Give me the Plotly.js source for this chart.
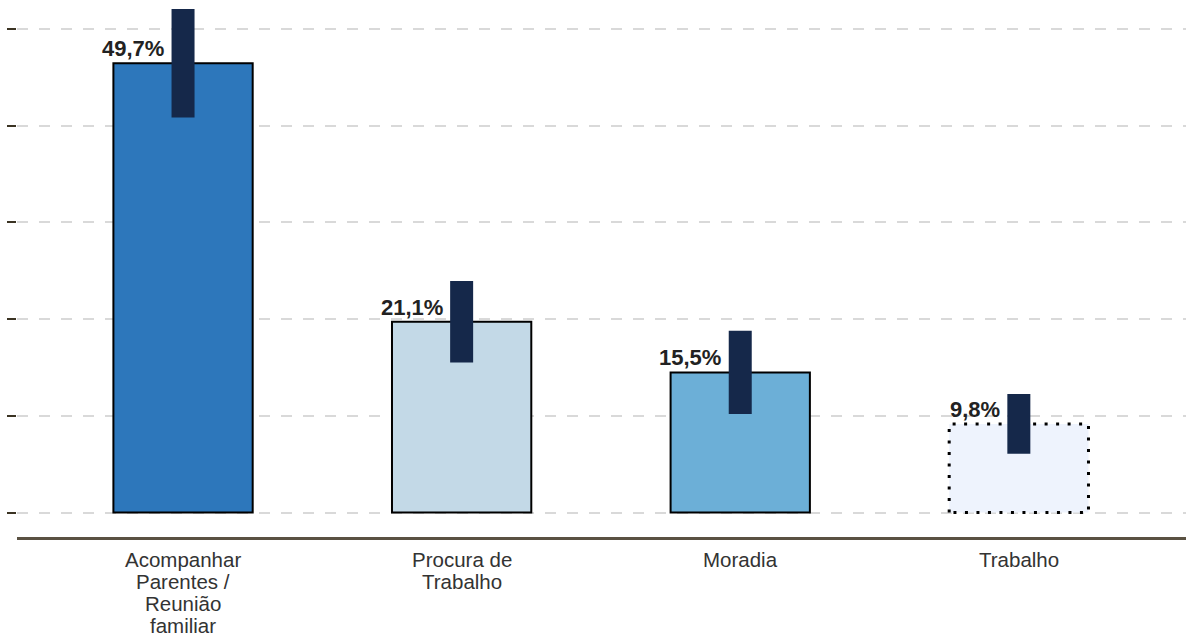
<!DOCTYPE html>
<html>
<head>
<meta charset="utf-8">
<script src="https://cdn.plot.ly/plotly-3.0.1.min.js"></script>
<style>html,body{margin:0;padding:0;background:#fff;}#chart{width:1186px;height:639px;}</style>
</head>
<body>
<div id="chart"></div>
<script>
var categories = ['Acompanhar<br>Parentes /<br>Reunião<br>familiar', 'Procura de<br>Trabalho', 'Moradia', 'Trabalho'];
var values = [49.7, 21.1, 15.5, 9.8];
var errors = [6.0, 4.5, 4.6, 3.3];
var barColors = ['#2d77bb', '#c3d9e7', '#6cafd7', '#eef3fd'];
var gridTicks = [0, 10.7, 21.4, 32.1, 42.8, 53.5];

var idx = categories.map(function(_, i){ return i; });
var barWidth = 0.5;

var traces = [];
traces.push({
  type: 'bar',
  x: idx,
  y: values,
  width: barWidth,
  marker: {
    color: barColors,
    line: {color: '#000', width: values.map(function(_, i){ return i === values.length - 1 ? 0 : 2; })}
  },
  hoverinfo: 'skip',
  showlegend: false
});

// dotted outline for the last bar
var li = values.length - 1;
traces.push({
  type: 'scatter',
  mode: 'lines',
  x: [li - barWidth/2, li - barWidth/2, li + barWidth/2, li + barWidth/2, li - barWidth/2],
  y: [0, values[li], values[li], 0, 0],
  line: {color: '#000', width: 3, dash: '3px,8.5px'},
  hoverinfo: 'skip',
  showlegend: false
});

traces.push({
  type: 'scatter',
  mode: 'markers',
  x: idx,
  y: values,
  marker: {size: 1, color: 'rgba(0,0,0,0)'},
  error_y: {type: 'data', array: errors, visible: true, color: '#15284a', thickness: 23, width: 0},
  hoverinfo: 'skip',
  showlegend: false
});

var annotations = [];
values.forEach(function(v, i){
  annotations.push({
    x: i, y: v, xref: 'x', yref: 'y',
    text: v.toFixed(1).replace('.', ',') + '%',
    showarrow: false, xanchor: 'right', yanchor: 'bottom', xshift: -17,
    font: {family: 'Liberation Sans, Arial, sans-serif', size: 22, color: '#222', weight: 'bold'}
  });
});
categories.forEach(function(c, i){
  c.split('<br>').forEach(function(line, k){
    annotations.push({
      x: i, y: 0, xref: 'x', yref: 'paper',
      text: line, showarrow: false, xanchor: 'center', yanchor: 'middle',
      yshift: -22 - 22*k,
      font: {family: 'Liberation Sans, Arial, sans-serif', size: 20.5, color: '#333'}
    });
  });
});

var layout = {
  width: 1186, height: 639,
  margin: {l: 17, r: 0, t: 0, b: 102, pad: 0},
  paper_bgcolor: '#fff', plot_bgcolor: '#fff',
  showlegend: false,
  barmode: 'overlay',
  xaxis: {
    range: [-0.596, 3.6],
    showticklabels: false, ticks: '', showgrid: false, zeroline: false,
    showline: true, linecolor: '#5a5142', linewidth: 2.7,
    fixedrange: true
  },
  yaxis: {
    range: [-2.71, 56.7],
    tickmode: 'array', tickvals: gridTicks, showticklabels: false,
    ticks: 'outside', ticklen: 9, tickwidth: 2, tickcolor: '#3b3323',
    showgrid: true, gridcolor: '#d9d9d9', gridwidth: 2, griddash: '11px,11px',
    zeroline: false, showline: false, fixedrange: true
  },
  annotations: annotations
};

Plotly.newPlot('chart', traces, layout, {displayModeBar: false, staticPlot: true});
</script>
</body>
</html>
